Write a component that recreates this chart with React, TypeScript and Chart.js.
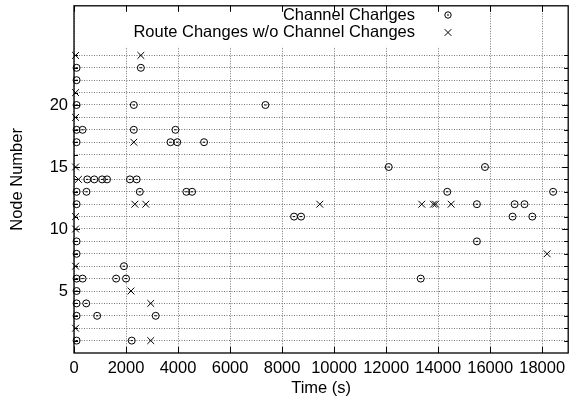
import React, { useEffect, useRef } from "react";
import { Chart, registerables } from "chart.js";

Chart.register(...registerables);

// ---- data ----
const xTickValues = [0, 2000, 4000, 6000, 8000, 10000, 12000, 14000, 16000, 18000];
const yGridValues = [1, 2, 3, 4, 5, 6, 7, 8, 9, 10, 11, 12, 13, 14, 15, 16, 17, 18, 19, 20, 21, 22, 23, 24];
const yLabelValues = [5, 10, 15, 20];
const xMax = 19000;
const yMax = 28;

const legendLabels = ["Channel Changes", "Route Changes w/o Channel Changes"];

// Channel changes (circle-dot markers): time (s) and node number
const channelTimes = [
  100, 2570,
  100,
  100, 2300, 7360,
  100, 330, 2300, 3900,
  100, 3710, 3970, 5000,
  12100, 15800,
  510, 780, 1080, 1270, 2150, 2410,
  100, 480, 2530, 4320, 4540, 14350, 18420,
  100, 15490, 16940, 17320,
  8460, 8730, 16860, 17620,
  100, 15490,
  100,
  1920,
  100, 330, 1620, 2000, 13330,
  100,
  100, 470,
  100, 890, 3140,
  100, 2220,
];
const channelNodes = [
  23, 23,
  22,
  20, 20, 20,
  18, 18, 18, 18,
  17, 17, 17, 17,
  15, 15,
  14, 14, 14, 14, 14, 14,
  13, 13, 13, 13, 13, 13, 13,
  12, 12, 12, 12,
  11, 11, 11, 11,
  9, 9,
  8,
  7,
  6, 6, 6, 6, 6,
  5,
  4, 4,
  3, 3, 3,
  1, 1,
];

// Route changes without channel changes (x markers)
const routeTimes = [
  60, 2570,
  60,
  60,
  2300,
  60,
  170,
  2340, 2760, 9450, 13370, 13820, 13900, 14500,
  60,
  60,
  18190,
  60,
  2190,
  2950,
  60,
  2950,
];
const routeNodes = [
  24, 24,
  21,
  19,
  17,
  15,
  14,
  12, 12, 12, 12, 12, 12, 12,
  11,
  10,
  8,
  7,
  5,
  4,
  2,
  1,
];

const FONT = "'Liberation Sans', Arial, Helvetica, sans-serif";
const FS = 16.5;

export default function App() {
  const ref = useRef<HTMLCanvasElement | null>(null);

  useEffect(() => {
    const canvas = ref.current;
    if (!canvas) return;

    const channelData = channelTimes.map((t, i) => ({ x: t, y: channelNodes[i] }));
    const routeData = routeTimes.map((t, i) => ({ x: t, y: routeNodes[i] }));

    const framePlugin = {
      id: "gnuFrame",
      afterDraw(chart: any) {
        const { ctx, chartArea } = chart;
        const { left, right, top, bottom } = chartArea;
        const xs = chart.scales.x;
        const ys = chart.scales.y;

        ctx.save();
        // opaque key box
        ctx.fillStyle = "#fff";
        ctx.fillRect(100, top + 5, 360, 36);

        // key text and symbols
        ctx.fillStyle = "#000";
        ctx.font = `${FS}px ${FONT}`;
        ctx.textAlign = "right";
        ctx.textBaseline = "middle";
        ctx.fillText(legendLabels[0], 415, 15.5);
        ctx.fillText(legendLabels[1], 415, 32.5);

        ctx.strokeStyle = "#000";
        ctx.lineWidth = 1;
        ctx.beginPath();
        ctx.arc(448, 15, 3.2, 0, Math.PI * 2);
        ctx.stroke();
        ctx.beginPath();
        ctx.moveTo(447, 15);
        ctx.lineTo(449, 15);
        ctx.stroke();
        const r = 3.3;
        ctx.beginPath();
        ctx.moveTo(448 - r, 32.5 - r);
        ctx.lineTo(448 + r, 32.5 + r);
        ctx.moveTo(448 - r, 32.5 + r);
        ctx.lineTo(448 + r, 32.5 - r);
        ctx.stroke();

        // frame
        ctx.lineWidth = 1.3;
        ctx.strokeRect(left, top, right - left, bottom - top);

        // inward ticks
        ctx.lineWidth = 1;
        ctx.beginPath();
        xTickValues.forEach((v) => {
          const px = Math.round(xs.getPixelForValue(v)) + 0.5;
          ctx.moveTo(px, bottom);
          ctx.lineTo(px, bottom - 6);
          ctx.moveTo(px, top);
          ctx.lineTo(px, top + 6);
        });
        yGridValues.forEach((v) => {
          const py = Math.round(ys.getPixelForValue(v)) + 0.5;
          const len = yLabelValues.includes(v) ? 6 : 4;
          ctx.moveTo(left, py);
          ctx.lineTo(left + len, py);
          ctx.moveTo(right, py);
          ctx.lineTo(right - len, py);
        });
        ctx.stroke();
        ctx.restore();
      },
    };

    const chart = new Chart(canvas, {
      type: "scatter",
      data: {
        datasets: [
          {
            label: legendLabels[0],
            data: channelData,
            pointStyle: "circle",
            pointRadius: 3.5,
            pointBorderWidth: 1,
            borderColor: "#000",
            backgroundColor: "rgba(0,0,0,0)",
            showLine: false,
            clip: false as any,
          },
          {
            label: legendLabels[0] + " (centre)",
            data: channelData,
            pointStyle: "line",
            pointRadius: 1.2,
            pointBorderWidth: 1,
            borderColor: "#000",
            backgroundColor: "#000",
            showLine: false,
            clip: false as any,
          },
          {
            label: legendLabels[1],
            data: routeData,
            pointStyle: "crossRot",
            pointRadius: 4.8,
            pointBorderWidth: 1,
            borderColor: "#000",
            backgroundColor: "#000",
            showLine: false,
            clip: false as any,
          },
        ],
      },
      options: {
        animation: false,
        responsive: false,
        devicePixelRatio: 1,
        layout: { padding: { top: 2, right: 1, left: 0, bottom: 0 } },
        plugins: {
          legend: { display: false },
          tooltip: { enabled: false },
        },
        scales: {
          x: {
            type: "linear",
            position: "bottom",
            min: 0,
            max: xMax,
            afterBuildTicks: (scale: any) => {
              scale.ticks = xTickValues.map((v) => ({ value: v }));
            },
            afterFit: (scale: any) => {
              scale.height = 53;
              scale.paddingLeft = 0;
              scale.paddingRight = 0;
            },
            ticks: {
              autoSkip: false,
              maxRotation: 0,
              padding: 6,
              color: "#000",
              font: { family: FONT, size: FS },
              callback: (v: any) => String(v),
            },
            grid: { color: "#777", lineWidth: 1, drawTicks: false },
            border: { display: false, dash: [1, 1.5] },
            title: {
              display: true,
              text: "Time (s)",
              color: "#000",
              font: { family: FONT, size: FS },
              padding: { top: 0, bottom: 8 },
            },
          },
          y: {
            type: "linear",
            position: "left",
            min: 0,
            max: yMax,
            afterBuildTicks: (scale: any) => {
              scale.ticks = yGridValues.map((v) => ({ value: v }));
            },
            afterFit: (scale: any) => {
              scale.width = 74;
              scale.paddingTop = 0;
              scale.paddingBottom = 0;
            },
            ticks: {
              autoSkip: false,
              padding: 6,
              color: "#000",
              font: { family: FONT, size: FS },
              callback: (v: any) => (yLabelValues.includes(Number(v)) ? String(v) : ""),
            },
            grid: { color: "#777", lineWidth: 1, drawTicks: false },
            border: { display: false, dash: [1, 1.5] },
            title: {
              display: true,
              text: "Node Number",
              color: "#000",
              font: { family: FONT, size: FS },
              padding: { top: 8, bottom: 0 },
            },
          },
        },
      },
      plugins: [framePlugin],
    });

    return () => chart.destroy();
  }, []);

  return (
    <div style={{ position: "absolute", left: 0, top: 0, width: 574, height: 406, background: "#fff" }}>
      <canvas ref={ref} width={574} height={406} style={{ display: "block" }} />
    </div>
  );
}
